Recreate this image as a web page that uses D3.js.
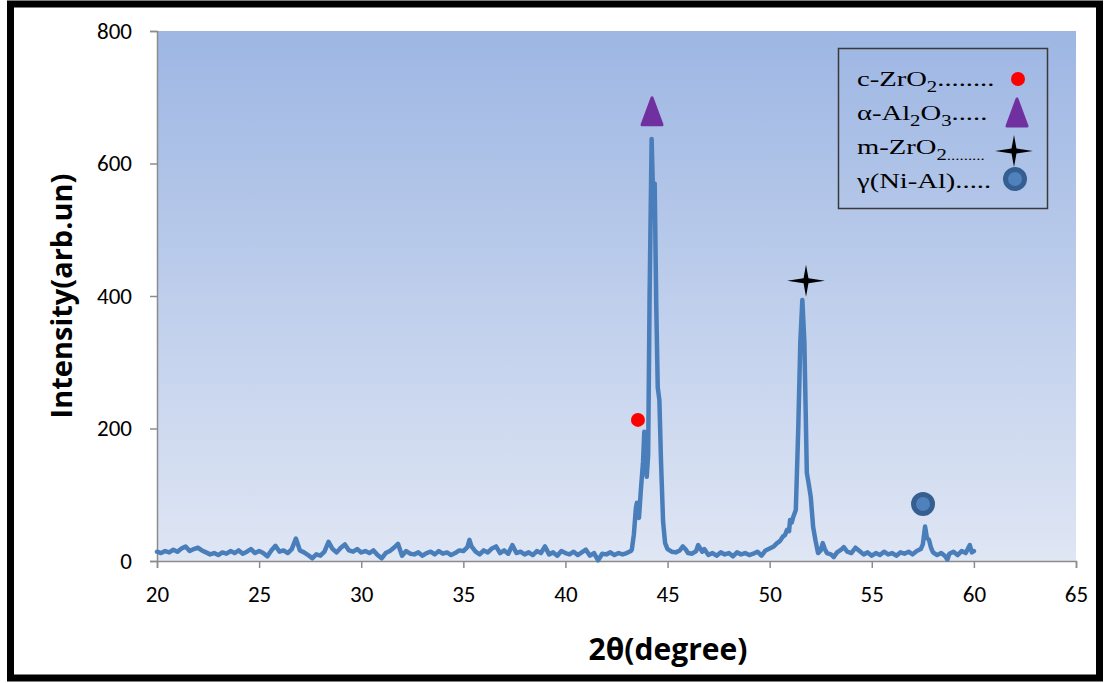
<!DOCTYPE html>
<html>
<head>
<meta charset="utf-8">
<script src="https://cdn.jsdelivr.net/npm/d3@7"></script>
<style>
  body { margin: 0; background: #fff; }
  svg { display: block; }
</style>
</head>
<body>
<div id="chart"></div>
<script>
// XRD pattern values
var twoTheta = [
  20.0, 20.2, 20.4, 20.6, 20.8, 21.0, 21.2, 21.4, 21.6, 21.8, 22.0, 22.2, 22.4, 22.6, 22.8,
  23.0, 23.2, 23.4, 23.6, 23.8, 24.0, 24.2, 24.4, 24.6, 24.8, 25.0, 25.2, 25.4, 25.6, 25.8,
  26.0, 26.2, 26.4, 26.6, 26.8, 27.0, 27.2, 27.4, 27.6, 27.8, 28.0, 28.2, 28.4, 28.6, 28.8,
  29.0, 29.2, 29.4, 29.6, 29.8, 30.0, 30.2, 30.4, 30.6, 30.8, 31.0, 31.2, 31.4, 31.6, 31.8,
  32.0, 32.2, 32.4, 32.6, 32.8, 33.0, 33.2, 33.4, 33.6, 33.8, 34.0, 34.2, 34.4, 34.6, 34.8,
  35.0, 35.2, 35.3, 35.4, 35.6, 35.8, 36.0, 36.2, 36.4, 36.6, 36.8, 37.0, 37.2, 37.4, 37.6,
  37.8, 38.0, 38.2, 38.4, 38.6, 38.8, 39.0, 39.2, 39.4, 39.6, 39.8, 40.0, 40.2, 40.4, 40.6,
  40.8, 41.0, 41.2, 41.4, 41.6, 41.8, 42.0, 42.2, 42.4, 42.6, 42.8, 43.0, 43.2, 43.25, 43.35,
  43.45, 43.5, 43.55, 43.6, 43.7, 43.8, 43.86, 43.92, 43.98, 44.05, 44.12, 44.22, 44.3, 44.37, 44.45,
  44.52, 44.6, 44.68, 44.78, 44.88, 45.0, 45.2, 45.4, 45.6, 45.75, 45.9, 46.0, 46.2, 46.4, 46.5,
  46.7, 46.8, 47.0, 47.2, 47.4, 47.6, 47.8, 48.0, 48.2, 48.4, 48.6, 48.8, 49.0, 49.2, 49.4,
  49.6, 49.8, 50.0, 50.2, 50.36, 50.5, 50.65, 50.75, 50.85, 50.95, 51.0, 51.08, 51.15, 51.28, 51.4,
  51.5, 51.6, 51.7, 51.82, 51.92, 52.01, 52.13, 52.25, 52.37, 52.5, 52.6, 52.7, 52.8, 53.0, 53.14,
  53.3, 53.5, 53.63, 53.8, 54.0, 54.2, 54.4, 54.6, 54.8, 55.0, 55.2, 55.4, 55.6, 55.8, 56.0,
  56.2, 56.4, 56.6, 56.8, 57.0, 57.2, 57.4, 57.5, 57.61, 57.7, 57.8, 57.9, 58.0, 58.2, 58.4,
  58.6, 58.7, 58.8, 59.0, 59.2, 59.4, 59.6, 59.8, 59.9, 60.0
];
var intensity = [
  14, 12, 15, 13, 17, 14, 19, 22, 15, 18, 20, 16, 13, 10, 12,
  9, 13, 11, 15, 12, 16, 11, 14, 18, 12, 15, 12, 7, 16, 23,
  14, 16, 12, 18, 34, 16, 13, 9, 4, 10, 8, 14, 29, 18, 13,
  20, 25, 16, 14, 18, 13, 15, 12, 16, 9, 4, 12, 15, 20, 26,
  8, 15, 11, 10, 13, 8, 12, 14, 10, 15, 11, 13, 9, 12, 16,
  15, 21, 32, 22, 14, 10, 16, 13, 19, 22, 12, 16, 11, 24, 12,
  14, 10, 13, 9, 15, 12, 22, 10, 13, 8, 15, 12, 10, 14, 9,
  13, 17, 8, 12, 1, 11, 10, 13, 9, 12, 10, 12, 15, 17, 40,
  80, 88, 70, 65, 110, 150, 195, 150, 127, 160, 400, 637, 540, 570, 380,
  262, 243, 150, 60, 27, 18, 14, 13, 16, 22, 17, 12, 11, 15, 24,
  14, 18, 9, 12, 8, 13, 10, 12, 7, 13, 10, 12, 9, 11, 14,
  8, 16, 19, 22, 27, 30, 37, 39, 47, 45, 62, 58, 66, 77, 200,
  330, 394, 330, 133, 115, 97, 51, 30, 12, 16, 27, 18, 12, 10, 6,
  13, 17, 21, 14, 12, 20, 15, 10, 13, 8, 12, 9, 14, 10, 12,
  8, 13, 11, 14, 10, 15, 18, 25, 52, 35, 32, 20, 13, 9, 12,
  7, 2, 11, 14, 9, 15, 12, 24, 13, 15
];

var xTicks = [20, 25, 30, 35, 40, 45, 50, 55, 60, 65];
var yTicks = [0, 200, 400, 600, 800];

// phase markers placed over the peaks
var phaseNames = ["c-ZrO2", "α-Al2O3", "m-ZrO2", "γ(Ni-Al)"];
var phaseAngle = [43.55, 44.24, 51.78, 57.51];
var phaseLevel = [213, 678, 423, 86];

var svgWidth = 1105;
var svgHeight = 683;
var margin = { top: 31, right: 29, bottom: 122, left: 157 };
var width = svgWidth - margin.left - margin.right;
var height = svgHeight - margin.top - margin.bottom;

var svg = d3.select("#chart").append("svg")
  .attr("width", svgWidth)
  .attr("height", svgHeight);

// background gradient of the plot area
var defs = svg.append("defs");
var grad = defs.append("linearGradient")
  .attr("id", "plotBg")
  .attr("x1", 0).attr("y1", 0).attr("x2", 0).attr("y2", 1);
grad.append("stop").attr("offset", "0%").attr("stop-color", "#9db6e3");
grad.append("stop").attr("offset", "100%").attr("stop-color", "#dfe6f4");

// outer frame
svg.append("rect")
  .attr("x", 10.5).attr("y", 4)
  .attr("width", 1089).attr("height", 674)
  .attr("fill", "none")
  .attr("stroke", "#000")
  .attr("stroke-width", 7);

var chartGroup = svg.append("g")
  .attr("transform", `translate(${margin.left}, ${margin.top})`);

var xScale = d3.scaleLinear().domain([20, 65]).range([0, width]);
var yScale = d3.scaleLinear().domain([0, 800]).range([height, 0]);

chartGroup.append("rect")
  .attr("width", width)
  .attr("height", height)
  .attr("fill", "url(#plotBg)");

var tickFont = "Carlito, Calibri, 'Open Sans', sans-serif";

var bottomAxis = d3.axisBottom(xScale).tickValues(xTicks).tickSize(7).tickSizeOuter(7).tickPadding(18);
var leftAxis = d3.axisLeft(yScale).tickValues(yTicks).tickSize(7).tickSizeOuter(7).tickPadding(18);

var gx = chartGroup.append("g")
  .attr("transform", `translate(0, ${height})`)
  .call(bottomAxis);
var gy = chartGroup.append("g").call(leftAxis);

[gx, gy].forEach(function (g) {
  g.selectAll("path, line").attr("stroke", "#8c8c8c").attr("stroke-width", 1.5);
  g.selectAll("text")
    .attr("fill", "#000")
    .style("font-family", tickFont)
    .style("font-size", "23px");
});

// the pattern itself
var points = twoTheta.map(function (t, i) { return [t, intensity[i]]; });
var line = d3.line()
  .x(d => xScale(d[0]))
  .y(d => yScale(d[1]));

chartGroup.append("path")
  .datum(points)
  .attr("d", line)
  .attr("fill", "none")
  .attr("stroke", "#4a7ebb")
  .attr("stroke-width", 4.5)
  .attr("stroke-linejoin", "round")
  .attr("stroke-linecap", "round");

// four pointed star symbol
var star4 = {
  draw: function (ctx, size) {
    var r = Math.sqrt(size) * 0.9;
    var k = r * 0.13;
    ctx.moveTo(0, -r * 0.85);
    ctx.lineTo(k, -k);
    ctx.lineTo(r, 0);
    ctx.lineTo(k, k);
    ctx.lineTo(0, r * 0.85);
    ctx.lineTo(-k, k);
    ctx.lineTo(-r, 0);
    ctx.lineTo(-k, -k);
    ctx.closePath();
  }
};

function drawMarker(g, i, x, y) {
  if (i === 0) {
    g.append("circle").attr("cx", x).attr("cy", y).attr("r", 7).attr("fill", "#ff0000");
  } else if (i === 1) {
    g.append("path")
      .attr("d", `M${x},${y - 14} L${x + 10},${y + 13} L${x - 10},${y + 13} Z`)
      .attr("fill", "#7030a0")
      .attr("stroke", "#7030a0")
      .attr("stroke-width", 3)
      .attr("stroke-linejoin", "round");
  } else if (i === 2) {
    g.append("path")
      .attr("d", d3.symbol().type(star4).size(440)())
      .attr("transform", `translate(${x}, ${y})`)
      .attr("fill", "#000");
  } else {
    g.append("circle").attr("cx", x).attr("cy", y).attr("r", 9.5)
      .attr("fill", "#4f81bd").attr("stroke", "#365f91").attr("stroke-width", 5);
  }
}

phaseNames.forEach(function (n, i) {
  drawMarker(chartGroup, i, xScale(phaseAngle[i]), yScale(phaseLevel[i]));
});

// axis titles
chartGroup.append("text")
  .attr("transform", "rotate(-90)")
  .attr("x", -(height / 2))
  .attr("y", -85)
  .attr("text-anchor", "middle")
  .style("font-family", "'Open Sans', sans-serif")
  .style("font-weight", "bold")
  .style("font-size", "29px")
  .text("Intensity(arb.un)");

chartGroup.append("text")
  .attr("x", 511)
  .attr("y", height + 99)
  .attr("text-anchor", "middle")
  .style("font-family", "'Open Sans', sans-serif")
  .style("font-weight", "bold")
  .style("font-size", "30px")
  .text("2θ(degree)");

// legend
var legend = svg.append("g");
legend.append("rect")
  .attr("x", 838.5).attr("y", 48.5)
  .attr("width", 209).attr("height", 160)
  .attr("fill", "none")
  .attr("stroke", "#3a3a3a")
  .attr("stroke-width", 1.5);

var legendText = [
  [["c-ZrO", ""], ["2", "sub"], ["........", ""]],
  [["α-Al", ""], ["2", "sub"], ["O", ""], ["3", "sub"], [".....", ""]],
  [["m-ZrO", ""], ["2", "sub"], [".........", "subdot"]],
  [["γ(Ni-Al).....", ""]]
];
var legendMarkX = [1018, 1017, 1014, 1015];

legendText.forEach(function (parts, i) {
  var y = 86 + i * 34;
  // the legend type is drawn a bit wider than it is tall
  var t = legend.append("text")
    .attr("transform", `translate(857, ${y}) scale(1.3, 1)`)
    .style("font-family", "'Liberation Serif', 'Times New Roman', serif")
    .style("font-size", "22px")
    .attr("fill", "#000");
  parts.forEach(function (p) {
    var s = t.append("tspan").text(p[0]);
    if (p[1] === "sub") {
      s.attr("dy", 6).style("font-size", "16px");
      s.attr("data-sub", 1);
    }
    if (p[1] === "subdot") {
      s.style("font-size", "13px");
    }
  });
  // reset baseline after subscripts
  t.selectAll("tspan").each(function (d, j, nodes) {
    var prev = j > 0 ? nodes[j - 1] : null;
    if (prev && prev.getAttribute("data-sub") && !this.getAttribute("data-sub") && parts[j][1] !== "subdot") {
      d3.select(this).attr("dy", -6);
    }
  });
  drawMarker(legend, i, legendMarkX[i], y - 7 + (i === 2 ? 4 : 0) + (i === 3 ? -2 : 0));
});
</script>
</body>
</html>
